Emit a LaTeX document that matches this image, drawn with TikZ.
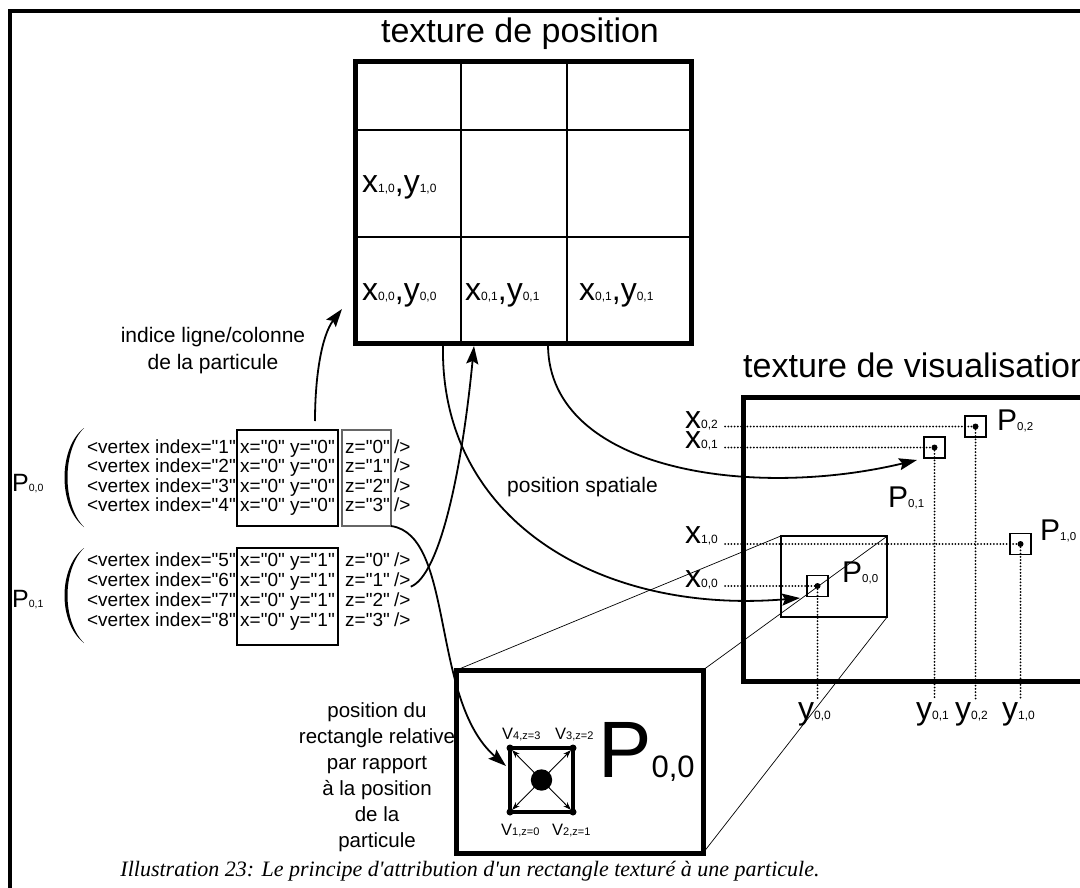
\documentclass[tikz,border=0pt]{standalone}
\usepackage{fontspec}
\setmainfont{Liberation Sans}[Ligatures=TeXOff]
\newfontfamily\capfont{Liberation Serif}
\usetikzlibrary{arrows.meta}
\newcommand{\fs}[1]{\fontsize{#1}{#1}\selectfont}
\newcommand{\lab}[3][12]{#2{\fs{#1}#3}}

\begin{document}
\begin{tikzpicture}[x=1pt,y=-1pt,
    txt/.style={inner sep=0pt,anchor=base west,font=\fs{#1}},
    txt/.default=21,
    texbox/.style={draw,line width=5pt,inner sep=0pt,outer sep=0pt},
    pbox/.style={draw,line width=1.2pt,minimum size=21pt,inner sep=0pt},
    dots/.style={line width=2pt,line cap=round,dash pattern=on 0pt off 3.2pt},
    arr/.style={line width=1.8pt,-{Stealth[length=18pt,width=12pt,inset=3pt]}},
    zoomline/.style={line width=0.7pt},
    small/.style={line width=0.9pt,-{Stealth[length=8pt,width=5.5pt]}}]
    \useasboundingbox (0,0) rectangle (1080,888);
    \draw[line width=3.2pt] (10,900) -- (10,11) -- (1090,11);

    \node[txt=34,anchor=base] (ttpos) at (520,43) {texture de position};
    \node[texbox,minimum width=336pt,minimum height=281pt] (postab) at (523,202.5) {};
    \draw[line width=1.5pt] (461,62) -- (461,343) (567,62) -- (567,343)
        (355,130) -- (691,130) (355,237) -- (691,237);
    \node[txt=32] (c10) at (362,193) {\lab{x}{1,0},\lab{y}{1,0}};
    \node[txt=32] (c00) at (362,300) {\lab{x}{0,0},\lab{y}{0,0}};
    \node[txt=32] (c01) at (465,300) {\lab{x}{0,1},\lab{y}{0,1}};
    \node[txt=32] (c02) at (579,300) {\lab{x}{0,1},\lab{y}{0,1}};

    \node[txt=34] (ttvis) at (743,377) {texture de visualisation};
    \node[texbox,minimum width=360pt,minimum height=284pt] (vis) at (923,539) {};
    \node[pbox] (p02) at (975.5,426.5) {};
    \node[pbox] (p01) at (934.5,447.5) {};
    \node[pbox] (p10) at (1020.5,544) {};
    \node[pbox] (p00) at (817.5,586) {};
    \foreach \p in {p02,p01,p10,p00} \fill (\p) circle (3pt);
    \node[txt=30] (lp02) at (997,430) {\lab[11.5]{P}{0,2}};
    \node[txt=30] (lp01) at (888,507) {\lab[11.5]{P}{0,1}};
    \node[txt=30] (lp10) at (1040,540) {\lab[11.5]{P}{1,0}};
    \node[txt=30] (lp00) at (842,582) {\lab[11.5]{P}{0,0}};
    \node[txt=32] (x02) at (685,428) {\lab{x}{0,2}};
    \node[txt=32] (x01) at (685,448) {\lab{x}{0,1}};
    \node[txt=32] (x10) at (685,543) {\lab{x}{1,0}};
    \node[txt=32] (x00) at (685,587) {\lab{x}{0,0}};
    \foreach \l/\p in {x02/p02,x01/p01,x10/p10,x00/p00}
        \draw[dots] ([xshift=7pt]\l.east |- \p) -- (\p.center);
    \node[txt=32] (y00) at (798,719) {\lab{y}{0,0}};
    \node[txt=32] (y01) at (916,719) {\lab{y}{0,1}};
    \node[txt=32] (y02) at (955,719) {\lab{y}{0,2}};
    \node[txt=32] (y10) at (1002,719) {\lab{y}{1,0}};
    \foreach \l/\p in {y00/p00,y01/p01,y02/p02,y10/p10}
        \draw[dots] (\p.center) -- ([yshift=3pt]\p.center |- \l.north);

    \node[draw,line width=1.8pt,inner sep=0pt,outer sep=0pt,minimum width=106.6pt,minimum height=80.7pt] (zsrc) at (834,576.4) {};
    \node[texbox,minimum width=246.3pt,minimum height=183pt] (zoom) at (579.9,761.5) {};
    \draw[zoomline] (zoom.north west) -- (zsrc.north west)
        (zoom.north east) -- (zsrc.north east)
        (zoom.south east) -- (zsrc.south east);

    \coordinate (v1) at (510,812);
    \coordinate (v2) at (573,812);
    \coordinate (v3) at (573,748);
    \coordinate (v4) at (510,748);
    \coordinate (vc) at (541.5,780);
    \draw[line width=3.3pt] (v1) -- (v2) -- (v3) -- (v4) -- cycle;
    \foreach \v in {v1,v2,v3,v4} {
        \fill (\v) circle (3.5pt);
        \draw[small,shorten >=3pt] (vc) -- (\v);
    }
    \fill (vc) circle (10.7pt);
    \node[txt=16.5] (lv4) at (502,739.5) {\lab[11]{V}{4,z=3}};
    \node[txt=16.5] (lv3) at (555,739.5) {\lab[11]{V}{3,z=2}};
    \node[txt=16.5] (lv1) at (501,835) {\lab[11]{V}{1,z=0}};
    \node[txt=16.5] (lv2) at (552,835) {\lab[11]{V}{2,z=1}};
    \node[txt=80] (bigp) at (598,777) {\lab[31]{P}{0,0}};
    \node[font=\fontsize{20.5}{26}\selectfont,align=center,inner sep=0pt] (rel) at (377,777)
        {position du\\rectangle relative\\par rapport\\à la position\\de la\\particule};

    \node[font=\fontsize{21}{26.6}\selectfont,align=center,inner sep=0pt] (indice) at (213,350.5)
        {indice ligne/colonne\\de la particule};
    \node[txt] (pos) at (507,492) {position spatiale};

    \foreach \i/\yy/\zz/\b in {1/0/0/453.3,2/0/1/472.8,3/0/2/492.3,4/0/3/511.8,
                               5/1/0/566.7,6/1/1/586.7,7/1/2/606.7,8/1/3/626.7} {
        \node[txt=19,anchor=base east] (vi\i) at (236,\b) {<vertex index="\i"};
        \node[txt=19] (vxy\i) at (240,\b) {x="0" y="\yy"};
        \node[txt=19] (vz\i) at (345,\b) {z="\zz"};
        \node[txt=19] (ve\i) at (394,\b) {/>};
    }
    \draw[line width=2.2pt] (237,430) rectangle (338,526);
    \draw[line width=1.4pt,black!60] (342,430) rectangle (391,526);
    \draw[line width=2.2pt] (237,548) rectangle (338,645);
    \foreach \t/\bt in {428/527,548/643}
        \fill (84,\t) .. controls (58,\t+20) and (58,\bt-20) .. (84,\bt)
            .. controls (62,\bt-22) and (62,\t+22) .. (84,\t);
    \node[txt=25] (pg0) at (12,491) {\lab[10.5]{P}{0,0}};
    \node[txt=25] (pg1) at (12,607) {\lab[10.5]{P}{0,1}};

    \coordinate (ind0) at (315,421);
    \coordinate (ind1) at (342,309);
    \coordinate (tb1) at (443,346);
    \coordinate (tb2) at (474,346);
    \coordinate (tb3) at (548,346);
    \coordinate (zc) at (391,526);
    \coordinate (vt) at (506,766);
    \coordinate (a00) at (800,598);
    \coordinate (a01) at (917,460);
    \draw[arr] (ind0) .. controls (315,375) and (322,335) .. (ind1);
    \draw[arr] (ve6.base east) .. controls (440,575) and (462,470) .. (tb2);
    \draw[arr] (zc) .. controls (455,535) and (430,700) .. (vt);
    \draw[arr] (tb1) .. controls (440,520) and (600,615) .. (a00);
    \draw[arr] (tb3) .. controls (550,470) and (750,500) .. (a01);

    \node[inner sep=0pt,anchor=base,font=\capfont\itshape\fs{22}] (cap) at (470,876)
        {Illustration 23: Le principe d'attribution d'un rectangle texturé à une particule.};
\end{tikzpicture}
\end{document}
